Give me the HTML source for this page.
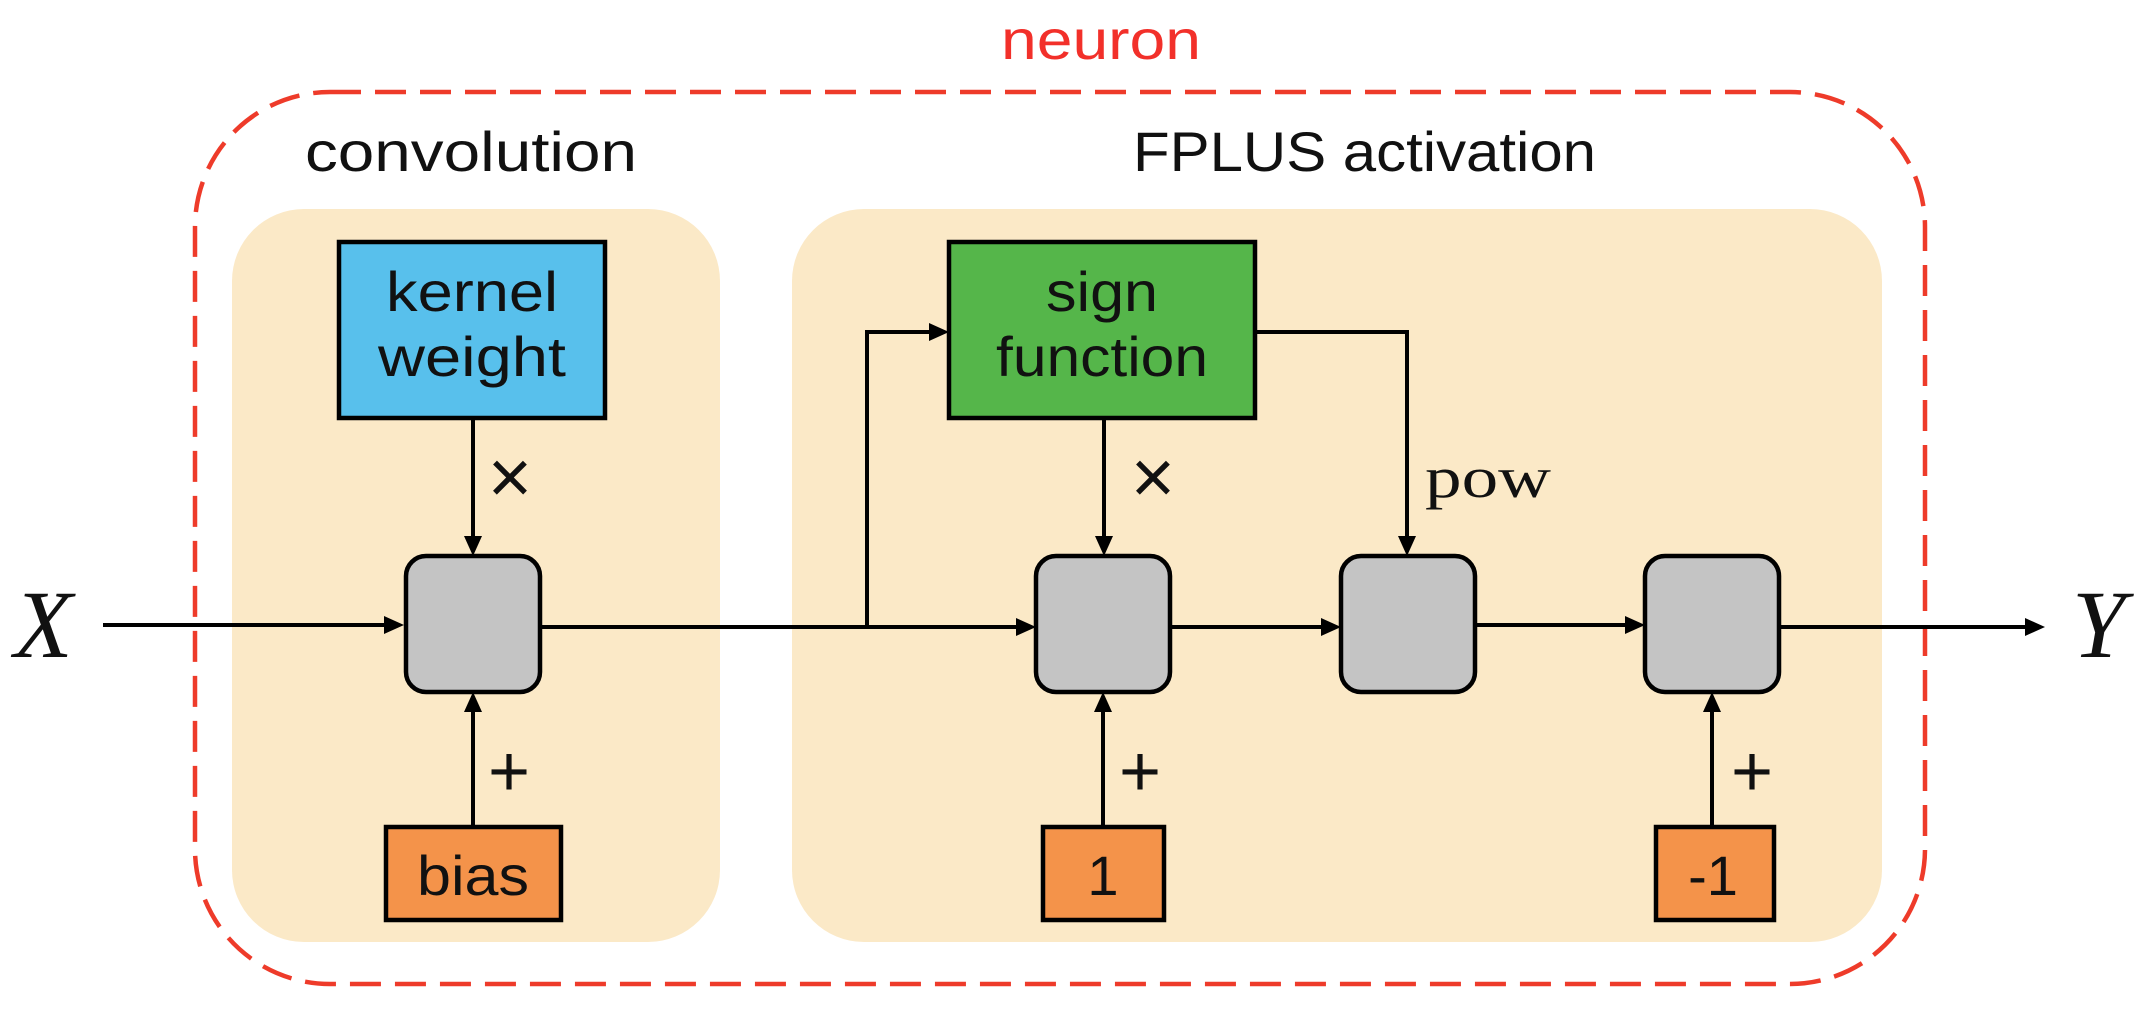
<!DOCTYPE html>
<html><head><meta charset="utf-8"><style>html,body{margin:0;padding:0;background:#fff}svg{display:block}</style></head>
<body>
<svg width="2150" height="1026" viewBox="0 0 2150 1026" xmlns="http://www.w3.org/2000/svg">
<style>
text{font-family:"Liberation Sans",sans-serif;fill:#111}
.ln{stroke:#000;stroke-width:4;fill:none}
.g{fill:#c4c4c4;stroke:#000;stroke-width:4.5}
</style>
<rect x="232" y="209" width="488" height="733" rx="72" fill="#fbe9c7"/>
<rect x="792" y="209" width="1090" height="733" rx="72" fill="#fbe9c7"/>
<rect x="195" y="92" width="1730" height="892" rx="135" fill="none" stroke="#ee3b2a" stroke-width="4.5" stroke-dasharray="31 14"/>
<text x="1101" y="59" font-size="56" text-anchor="middle" style="fill:#f2302a" textLength="200" lengthAdjust="spacingAndGlyphs">neuron</text>
<text x="305" y="171" font-size="56" textLength="332" lengthAdjust="spacingAndGlyphs">convolution</text>
<text x="1133" y="171" font-size="56" textLength="463" lengthAdjust="spacingAndGlyphs">FPLUS activation</text>

<rect x="339" y="242" width="266" height="176" fill="#58c0ec" stroke="#000" stroke-width="4.5"/>
<text x="472" y="311" font-size="56" text-anchor="middle" textLength="172" lengthAdjust="spacingAndGlyphs">kernel</text>
<text x="472" y="376" font-size="56" text-anchor="middle" textLength="188" lengthAdjust="spacingAndGlyphs">weight</text>
<rect x="949" y="242" width="306" height="176" fill="#55b64a" stroke="#000" stroke-width="4.5"/>
<text x="1102" y="311" font-size="56" text-anchor="middle" textLength="112" lengthAdjust="spacingAndGlyphs">sign</text>
<text x="1102" y="376" font-size="56" text-anchor="middle" textLength="212" lengthAdjust="spacingAndGlyphs">function</text>

<rect x="386" y="827" width="175" height="93" fill="#f4934a" stroke="#000" stroke-width="4.5"/>
<text x="473" y="895" font-size="56" text-anchor="middle" textLength="112" lengthAdjust="spacingAndGlyphs">bias</text>
<rect x="1043" y="827" width="121" height="93" fill="#f4934a" stroke="#000" stroke-width="4.5"/>
<text x="1103" y="895" font-size="56" text-anchor="middle">1</text>
<rect x="1656" y="827" width="118" height="93" fill="#f4934a" stroke="#000" stroke-width="4.5"/>
<text x="1713" y="895" font-size="56" text-anchor="middle">-1</text>

<rect class="g" x="406" y="556" width="134" height="136" rx="20"/>
<rect class="g" x="1036" y="556" width="134" height="136" rx="20"/>
<rect class="g" x="1341" y="556" width="134" height="136" rx="20"/>
<rect class="g" x="1645" y="556" width="134" height="136" rx="20"/>

<g class="ln">
<line x1="103" y1="625" x2="392" y2="625"/>
<line x1="473" y1="418" x2="473" y2="542"/>
<line x1="473" y1="827" x2="473" y2="706"/>
<line x1="540" y1="627" x2="1022" y2="627"/>
<polyline points="867,627 867,332 935,332"/>
<line x1="1104" y1="418" x2="1104" y2="542"/>
<polyline points="1255,332 1407,332 1407,542"/>
<line x1="1103" y1="827" x2="1103" y2="706"/>
<line x1="1170" y1="627" x2="1327" y2="627"/>
<line x1="1475" y1="625" x2="1631" y2="625"/>
<line x1="1712" y1="827" x2="1712" y2="706"/>
<line x1="1779" y1="627" x2="2030" y2="627"/>
</g>
<g fill="#000">
<polygon points="404,625 384,616 384,634"/>
<polygon points="473,556 464,536 482,536"/>
<polygon points="473,692 464,712 482,712"/>
<polygon points="1036,627 1016,618 1016,636"/>
<polygon points="949,332 929,323 929,341"/>
<polygon points="1104,556 1095,536 1113,536"/>
<polygon points="1407,556 1398,536 1416,536"/>
<polygon points="1103,692 1094,712 1112,712"/>
<polygon points="1341,627 1321,618 1321,636"/>
<polygon points="1645,625 1625,616 1625,634"/>
<polygon points="1712,692 1703,712 1721,712"/>
<polygon points="2045,627 2025,618 2025,636"/>
</g>
<text x="510" y="503" font-size="76" text-anchor="middle">×</text>
<text x="1153" y="503" font-size="76" text-anchor="middle">×</text>
<text x="509" y="796" font-size="72" text-anchor="middle">+</text>
<text x="1140" y="796" font-size="72" text-anchor="middle">+</text>
<text x="1752" y="796" font-size="72" text-anchor="middle">+</text>
<text x="1425" y="497" font-size="58" style="font-family:'Liberation Serif',serif" textLength="126" lengthAdjust="spacingAndGlyphs">pow</text>
<text x="14" y="657" font-size="96" style="font-family:'Liberation Serif',serif;font-style:italic">X</text>
<text x="2072" y="657" font-size="96" style="font-family:'Liberation Serif',serif;font-style:italic">Y</text>
</svg>
</body></html>
